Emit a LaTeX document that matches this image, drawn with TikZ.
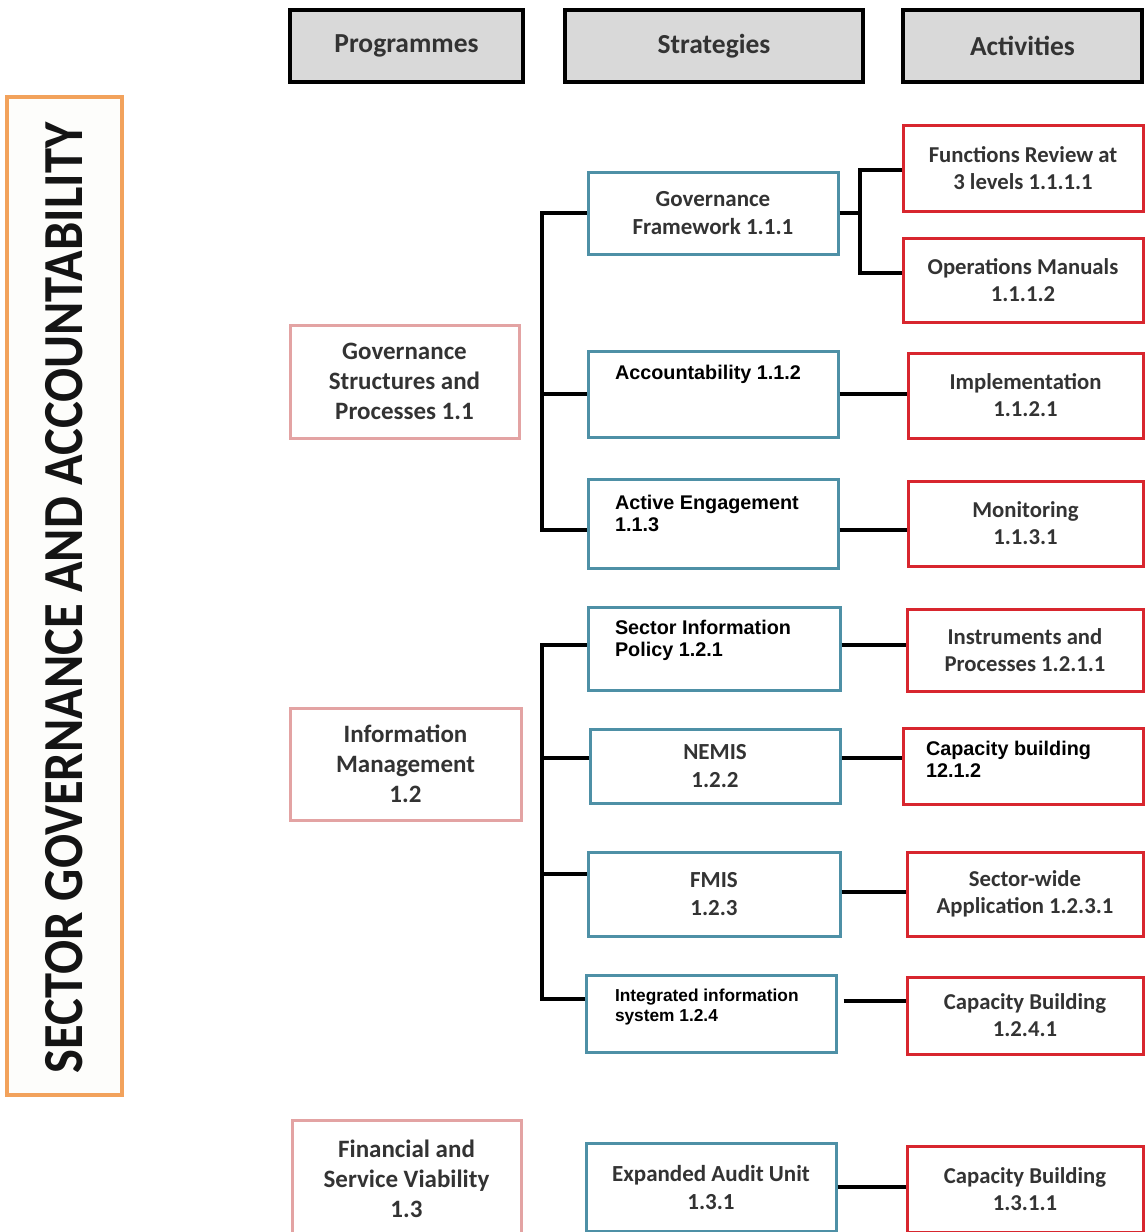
\documentclass[tikz,border=0pt]{standalone}
\usepackage{fontspec}
\setmainfont{Carlito}
\newfontfamily\arialfont{Liberation Sans}
\usetikzlibrary{calc}

\definecolor{headgray}{HTML}{D9D9D9}
\definecolor{textgray}{HTML}{333333}
\definecolor{titleorange}{HTML}{F2A25C}
\definecolor{progpink}{HTML}{E3A3A3}
\definecolor{stratteal}{HTML}{4E90A6}
\definecolor{actred}{HTML}{D8262E}

% top-left aligned text block of fixed size: width, height, left inset, top inset, text
\newcommand\tlblock[5]{\parbox[c][#2][t]{#1}{\raggedright\leftskip=#3\relax\vspace*{#4}#5\par}}

\begin{document}
\begin{tikzpicture}[x=1pt,y=-1pt,
  box/.style={draw, rectangle, inner sep=0pt, align=center, fill=white, line width=3pt, text=textgray},
  header/.style={box, fill=headgray, draw=black, line width=4pt,
    font=\bfseries\fontsize{27.5}{30}\selectfont},
  prog/.style={box, draw=progpink, font=\bfseries\fontsize{25}{30}\selectfont},
  strat/.style={box, draw=stratteal, font=\bfseries\fontsize{23}{28}\selectfont},
  act/.style={box, draw=actred, font=\bfseries\fontsize{22.7}{27}\selectfont},
  arialtxt/.style={text=black, font=\arialfont\bfseries\fontsize{19.8}{22}\selectfont},
  arialsmall/.style={text=black, font=\arialfont\bfseries\fontsize{17.3}{20}\selectfont},
  link/.style={line width=4pt, draw=black}]
\useasboundingbox (0,0) rectangle (1145,1232);
\fill[white] (0,0) rectangle (1145,1232);

% column headers
\node[header, minimum width=233pt, minimum height=72pt] (hp) at (406.5,46) {\raisebox{-3pt}{Programmes}};
\node[header, minimum width=298pt, minimum height=72pt] (hs) at (714,46) {\raisebox{-3pt}{Strategies}};
\node[header, minimum width=239pt, minimum height=72pt] (ha) at (1022.5,46) {\raisebox{-1pt}{Activities}};

% side title
\node[box, draw=titleorange, fill={rgb,255:red,253;green,253;blue,251}, line width=3.5pt,
  minimum width=115pt, minimum height=998pt] (title) at (64.5,596) {};
\node[rotate=90, text={rgb,255:red,20;green,20;blue,20}, inner sep=0pt] (titletext) at ([yshift=-2pt]title.center)
  {\scalebox{1}[1.12]{\bfseries\fontsize{50.5}{52}\selectfont SECTOR GOVERNANCE AND ACCOUNTABILITY}};

% programmes
\node[prog, minimum width=229pt, minimum height=113pt] (p11) at (404.5,381.5)
  {Governance\\Structures and\\Processes 1.1};
\node[prog, minimum width=231pt, minimum height=112pt] (p12) at (405.5,764)
  {Information\\Management\\1.2};
\node[prog, minimum width=229pt, minimum height=118pt] (p13) at (406.5,1179)
  {Financial and\\Service Viability\\1.3};

% strategies
\node[strat, minimum width=250pt, minimum height=82pt] (s111) at (713,213)
  {Governance\\Framework 1.1.1};
\node[strat, arialtxt] (s112) at (713,394)
  {\tlblock{250pt}{86pt}{27pt}{14pt}{Accountability 1.1.2}};
\node[strat, arialtxt] (s113) at (713,523.5)
  {\tlblock{250pt}{89pt}{27pt}{16pt}{Active Engagement\\1.1.3}};
\node[strat, arialtxt] (s121) at (714,648.5)
  {\tlblock{252pt}{83pt}{27pt}{13pt}{Sector Information\\Policy 1.2.1}};
\node[strat, minimum width=250pt, minimum height=74pt] (s122) at (715,766)
  {NEMIS\\1.2.2};
\node[strat, minimum width=252pt, minimum height=84pt] (s123) at (714,894)
  {FMIS\\1.2.3};
\node[strat, arialsmall] (s124) at (711,1013.5)
  {\tlblock{250pt}{77pt}{29pt}{14pt}{Integrated information\\system 1.2.4}};
\node[strat, minimum width=250pt, minimum height=88pt] (s131) at (711,1187)
  {Expanded Audit Unit\\1.3.1};

% activities
\node[act, minimum width=240pt, minimum height=86pt] (a1111) at (1023,168)
  {Functions Review at\\3 levels 1.1.1.1};
\node[act, minimum width=240pt, minimum height=84pt] (a1112) at (1023,280)
  {Operations Manuals\\1.1.1.2};
\node[act, minimum width=235pt, minimum height=85pt] (a1121) at (1025.5,395.5)
  {Implementation\\1.1.2.1};
\node[act, minimum width=235pt, minimum height=85pt] (a1131) at (1025.5,523.5)
  {Monitoring\\1.1.3.1};
\node[act, minimum width=236pt, minimum height=82pt] (a1211) at (1025,650)
  {Instruments and\\Processes 1.2.1.1};
\node[act, arialtxt] (a1212) at (1023,766)
  {\tlblock{240pt}{76pt}{23pt}{13pt}{Capacity building\\12.1.2}};
\node[act, minimum width=236pt, minimum height=84pt] (a1231) at (1025,894)
  {Sector-wide\\Application 1.2.3.1};
\node[act, minimum width=236pt, minimum height=77pt] (a1241) at (1025,1015.5)
  {Capacity Building\\1.2.4.1};
\node[act, minimum width=236pt, minimum height=86pt] (a1311) at (1025,1189)
  {Capacity Building\\1.3.1.1};

% trunk positions
\coordinate (t1) at (542,0);
\coordinate (j1) at (860,0);

% programme 1.1 strategies
\draw[link] (s111.west) -- (s111.west -| t1) -- ([yshift=-6pt]s113.west -| t1) -- ([yshift=-6pt]s113.west);
\draw[link] (s112.west) -- (s112.west -| t1);

% programme 1.2 strategies
\draw[link] ([yshift=4pt]s121.west) -- ([yshift=4pt]s121.west -| t1) -- ([yshift=15pt]s124.west -| t1) -- ([yshift=15pt]s124.west);
\draw[link] ([yshift=8pt]s122.west) -- ([yshift=8pt]s122.west -| t1);
\draw[link] ([yshift=20pt]s123.west) -- ([yshift=20pt]s123.west -| t1);

% strategies to activities
\draw[link] (s111.east) -- (s111.east -| j1);
\draw[link] ([yshift=-2pt]a1111.west) -- ([yshift=-2pt]a1111.west -| j1) -- ([yshift=7pt]a1112.west -| j1) -- ([yshift=7pt]a1112.west);
\draw[link] (s112.east) -- (s112.east -| a1121.west);
\draw[link] ([yshift=-6pt]s113.east) -- ([yshift=-6pt]s113.east -| a1131.west);
\draw[link] ([yshift=4pt]s121.east) -- ([yshift=4pt]s121.east -| a1211.west);
\draw[link] ([yshift=8pt]s122.east) -- ([yshift=8pt]s122.east -| a1212.west);
\draw[link] ([yshift=2pt]s123.east) -- ([yshift=2pt]s123.east -| a1231.west);
\draw[link, shorten <=6pt] ([yshift=13pt]s124.east) -- ([yshift=13pt]s124.east -| a1241.west);
\draw[link] (s131.east) -- (s131.east -| a1311.west);
\end{tikzpicture}
\end{document}
